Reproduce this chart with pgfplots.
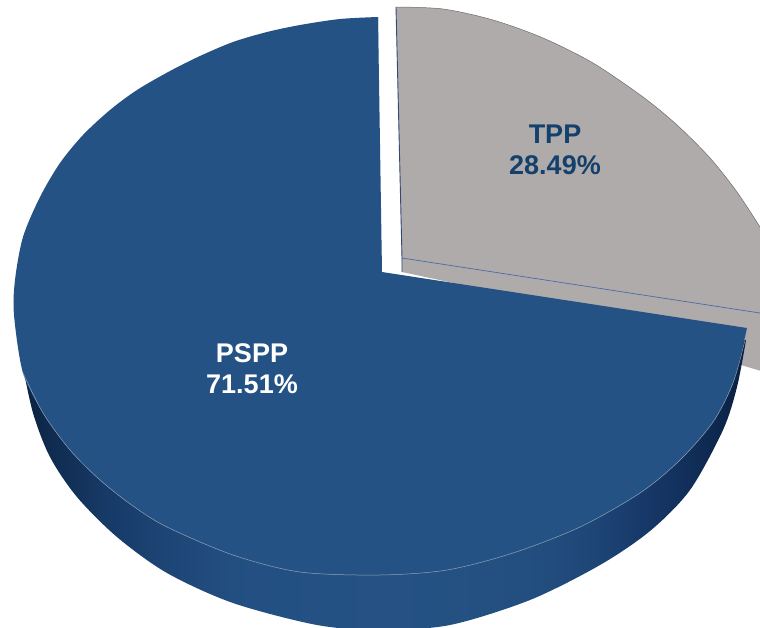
\documentclass[border=0pt]{standalone}
\usepackage{fontspec}
\setmainfont{Liberation Sans}
\usepackage{pgfplots}
\pgfplotsset{compat=1.18}
\definecolor{pspp}{HTML}{255285}
\definecolor{tpp}{HTML}{B0ABAB}
\definecolor{tpplabel}{HTML}{14406C}
\definecolor{rimline}{HTML}{8FA3B5}
\definecolor{sideline}{HTML}{4A6AA8}
\pgfdeclarehorizontalshading{sidewall}{100bp}{
  rgb(0bp)=(0.04,0.13,0.25);
  rgb(25bp)=(0.04,0.13,0.25);
  rgb(27bp)=(0.06,0.17,0.31);
  rgb(31bp)=(0.09,0.23,0.41);
  rgb(36bp)=(0.12,0.28,0.47);
  rgb(40bp)=(0.135,0.31,0.51);
  rgb(50bp)=(0.145,0.32,0.52);
  rgb(60bp)=(0.135,0.31,0.50);
  rgb(64bp)=(0.12,0.28,0.47);
  rgb(68bp)=(0.09,0.22,0.41);
  rgb(72bp)=(0.06,0.17,0.33);
  rgb(75bp)=(0.04,0.12,0.25);
  rgb(100bp)=(0.04,0.12,0.25)}
\begin{document}
\begin{tikzpicture}
\begin{axis}[
  scale only axis, width=760pt, height=627pt,
  xmin=0, xmax=760, ymin=0, ymax=627, y dir=reverse,
  hide axis, clip=true,
]
% TPP slice: arc segment, then the rest of the top face and side
\addplot[smooth, fill=tpp, draw=none] coordinates {
 (396,7) (443,9) (493,20) (543,38) (593,63) (643,97) (677,125) (710,158)
 (737,192) (760,227)};
\addplot[fill=tpp, draw=none] coordinates {
 (396,7) (590,105) (760,227) (761,371) (741,365) (720,340) (402,272) (396,7)} -- cycle;
\addplot[smooth, draw=gray!85!black, line width=0.5pt] coordinates {
 (396,7) (443,9) (493,20) (543,38) (593,63) (643,97) (677,125) (710,158)
 (737,192) (760,227)};
\addplot[draw=sideline, line width=0.7pt] coordinates {(402,258) (760,313)};
\addplot[draw=black!30!sideline, line width=0.9pt] coordinates {(396,7) (402,258) (402,272)};
% PSPP side wall
\addplot[smooth, draw=none, shade, shading=sidewall] coordinates {
 (22,362) (33,413) (50,457) (77,497) (117,537) (167,573) (233,603) (317,625)
 (380,630) (450,625) (530,600) (600,565) (650,531) (690,490) (723,430) (737,387) (746,340)};
% PSPP top face: two arc segments and the wedge between them
\addplot[smooth, fill=pspp, draw=none] coordinates {
 (378,17) (340,19) (300,25) (267,32) (233,42) (200,56) (170,71) (137,90)
 (110,110) (83,135) (60,163) (40,197) (23,237) (15,280) (14,315) (23,373) (43,413)
 (70,450) (100,480) (133,506) (167,527) (233,555) (300,572) (380,575)};
\addplot[smooth, fill=pspp, draw=none] coordinates {
 (380,575) (447,570) (513,553) (580,527) (640,493) (680,460) (713,422) (733,383) (747,328)};
\addplot[fill=pspp, draw=none] coordinates {
 (378,17) (300,300) (380,575) (585,500) (747,328) (382,272) (378,17)} -- cycle;
% light rim line on the front edge
\addplot[smooth, draw=rimline, line width=0.5pt] coordinates {
 (23,373) (43,413) (70,450) (100,480) (133,506) (167,527) (233,555)
 (300,572) (380,575) (447,570) (513,553) (580,527) (640,493) (680,460)
 (713,422) (733,383) (745,340)};
\node[anchor=base, text=white, font=\fontsize{27}{30}\selectfont\bfseries] at (axis cs:252,362) {PSPP};
\node[anchor=base, text=white, font=\fontsize{27}{30}\selectfont\bfseries] at (axis cs:252,393) {71.51\%};
\node[anchor=base, text=tpplabel, font=\fontsize{27}{30}\selectfont\bfseries] at (axis cs:555,143) {TPP};
\node[anchor=base, text=tpplabel, font=\fontsize{27}{30}\selectfont\bfseries] at (axis cs:555,174) {28.49\%};
\end{axis}
\useasboundingbox (current axis.south west) rectangle (current axis.north east);
\end{tikzpicture}
\end{document}
